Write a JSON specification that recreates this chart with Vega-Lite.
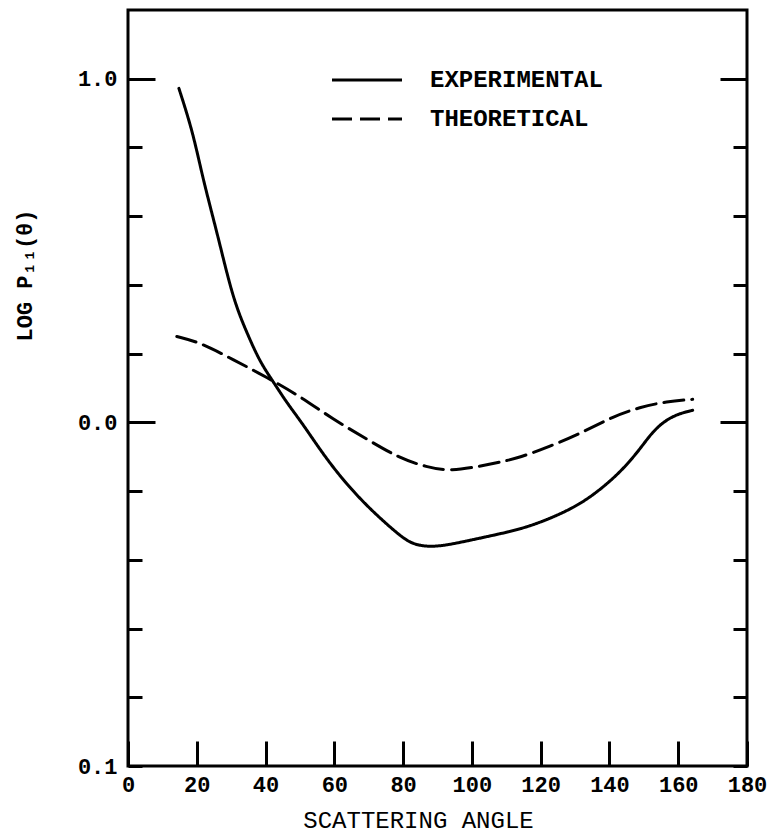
{
  "$schema": "https://vega.github.io/schema/vega-lite/v6.json",
  "width": 619,
  "height": 756,
  "autosize": "none",
  "padding": {"left": 128, "top": 10, "right": 37, "bottom": 68},
  "background": "white",
  "config": {
    "view": {"stroke": "black", "strokeWidth": 3},
    "axis": {
      "labelFont": "Liberation Mono",
      "titleFont": "Liberation Mono",
      "labelColor": "black",
      "titleColor": "black",
      "tickColor": "black",
      "tickWidth": 3,
      "grid": false,
      "domain": false
    }
  },
  "data": {
    "values": [
      {"angle": 14.8, "value": 0.972, "series": "EXPERIMENTAL"},
      {"angle": 18.9, "value": 0.844, "series": "EXPERIMENTAL"},
      {"angle": 21.8, "value": 0.707, "series": "EXPERIMENTAL"},
      {"angle": 26.2, "value": 0.541, "series": "EXPERIMENTAL"},
      {"angle": 30.5, "value": 0.36, "series": "EXPERIMENTAL"},
      {"angle": 34.5, "value": 0.262, "series": "EXPERIMENTAL"},
      {"angle": 38.4, "value": 0.175, "series": "EXPERIMENTAL"},
      {"angle": 42.2, "value": 0.119, "series": "EXPERIMENTAL"},
      {"angle": 46.1, "value": 0.058, "series": "EXPERIMENTAL"},
      {"angle": 50.5, "value": 0.0, "series": "EXPERIMENTAL"},
      {"angle": 55.8, "value": -0.079, "series": "EXPERIMENTAL"},
      {"angle": 61.6, "value": -0.157, "series": "EXPERIMENTAL"},
      {"angle": 69.4, "value": -0.244, "series": "EXPERIMENTAL"},
      {"angle": 79.0, "value": -0.33, "series": "EXPERIMENTAL"},
      {"angle": 82.8, "value": -0.355, "series": "EXPERIMENTAL"},
      {"angle": 87.8, "value": -0.363, "series": "EXPERIMENTAL"},
      {"angle": 93.6, "value": -0.356, "series": "EXPERIMENTAL"},
      {"angle": 103.2, "value": -0.335, "series": "EXPERIMENTAL"},
      {"angle": 114.8, "value": -0.31, "series": "EXPERIMENTAL"},
      {"angle": 123.5, "value": -0.277, "series": "EXPERIMENTAL"},
      {"angle": 131.4, "value": -0.239, "series": "EXPERIMENTAL"},
      {"angle": 138.1, "value": -0.19, "series": "EXPERIMENTAL"},
      {"angle": 143.9, "value": -0.137, "series": "EXPERIMENTAL"},
      {"angle": 148.8, "value": -0.079, "series": "EXPERIMENTAL"},
      {"angle": 152.6, "value": -0.026, "series": "EXPERIMENTAL"},
      {"angle": 156.7, "value": 0.009, "series": "EXPERIMENTAL"},
      {"angle": 160.5, "value": 0.026, "series": "EXPERIMENTAL"},
      {"angle": 164.2, "value": 0.035, "series": "EXPERIMENTAL"},
      {"angle": 14.2, "value": 0.25, "series": "THEORETICAL"},
      {"angle": 20.9, "value": 0.233, "series": "THEORETICAL"},
      {"angle": 30.5, "value": 0.183, "series": "THEORETICAL"},
      {"angle": 40.4, "value": 0.131, "series": "THEORETICAL"},
      {"angle": 50.0, "value": 0.076, "series": "THEORETICAL"},
      {"angle": 59.6, "value": 0.009, "series": "THEORETICAL"},
      {"angle": 69.5, "value": -0.049, "series": "THEORETICAL"},
      {"angle": 79.0, "value": -0.105, "series": "THEORETICAL"},
      {"angle": 86.9, "value": -0.13, "series": "THEORETICAL"},
      {"angle": 93.6, "value": -0.143, "series": "THEORETICAL"},
      {"angle": 104.3, "value": -0.124, "series": "THEORETICAL"},
      {"angle": 113.0, "value": -0.106, "series": "THEORETICAL"},
      {"angle": 122.7, "value": -0.07, "series": "THEORETICAL"},
      {"angle": 132.3, "value": -0.029, "series": "THEORETICAL"},
      {"angle": 141.0, "value": 0.017, "series": "THEORETICAL"},
      {"angle": 148.8, "value": 0.044, "series": "THEORETICAL"},
      {"angle": 156.7, "value": 0.061, "series": "THEORETICAL"},
      {"angle": 164.2, "value": 0.067, "series": "THEORETICAL"}
    ]
  },
  "layer": [
    {
      "mark": {"type": "line", "color": "black", "strokeWidth": 3, "interpolate": "basis", "strokeCap": "round"},
      "encoding": {
        "x": {
          "field": "angle", "type": "quantitative",
          "scale": {"domain": [0, 180], "nice": false, "zero": false},
          "axis": {
            "values": [0, 20, 40, 60, 80, 100, 120, 140, 160, 180],
            "tickSize": -25,
            "labelFontSize": 22, "labelFontWeight": "bold", "labelPadding": 33,
            "labelFlush": false,
            "title": "SCATTERING ANGLE", "titleFontSize": 24, "titleFontWeight": "normal",
            "titlePadding": 13, "titleX": 290
          }
        },
        "y": {
          "field": "value", "type": "quantitative",
          "scale": {"domain": [-1, 1.2], "nice": false, "zero": false},
          "axis": {
            "orient": "left",
            "values": [-1, -0.8, -0.6, -0.4, -0.2, 0, 0.2, 0.4, 0.6, 0.8, 1],
            "tickSize": -14,
            "labelExpr": "datum.value == 1 ? '1.0' : datum.value == 0 ? '0.0' : datum.value == -1 ? '0.1' : ''",
            "labelFontSize": 22, "labelFontWeight": "bold", "labelPadding": 25,
            "labelFlush": false,
            "title": "LOG P₁₁(θ)", "titleFontSize": 22, "titleFontWeight": "bold",
            "titlePadding": 41, "titleY": 265
          }
        },
        "strokeDash": {
          "field": "series", "type": "nominal",
          "scale": {"domain": ["EXPERIMENTAL", "THEORETICAL"], "range": [[1, 0], [20, 8]]},
          "legend": {
            "orient": "none", "legendX": 220, "legendY": 51,
            "title": null,
            "symbolType": "M-2,0H2", "symbolSize": 1225, "symbolStrokeWidth": 3,
            "symbolStrokeColor": "black",
            "labelFont": "Liberation Mono", "labelFontSize": 24, "labelFontWeight": "bold",
            "labelColor": "black", "labelOffset": 44, "labelLimit": 400, "rowPadding": 8
          }
        }
      }
    },
    {
      "mark": {"type": "point", "opacity": 0},
      "encoding": {
        "y": {
          "field": "value", "type": "quantitative",
          "axis": {
            "orient": "right",
            "values": [-1, -0.8, -0.6, -0.4, -0.2, 0, 0.2, 0.4, 0.6, 0.8, 1],
            "tickSize": -14,
            "labels": false,
            "title": null
          }
        }
      }
    },
    {
      "mark": {"type": "point", "opacity": 0},
      "encoding": {
        "y": {
          "field": "value", "type": "quantitative",
          "axis": {
            "orient": "left",
            "values": [0, 1],
            "tickSize": -27,
            "labels": false,
            "title": null
          }
        }
      }
    },
    {
      "mark": {"type": "point", "opacity": 0},
      "encoding": {
        "y": {
          "field": "value", "type": "quantitative",
          "axis": {
            "orient": "right",
            "values": [0, 1],
            "tickSize": -27,
            "labels": false,
            "title": null
          }
        }
      }
    }
  ],
  "resolve": {"axis": {"y": "independent"}}
}
